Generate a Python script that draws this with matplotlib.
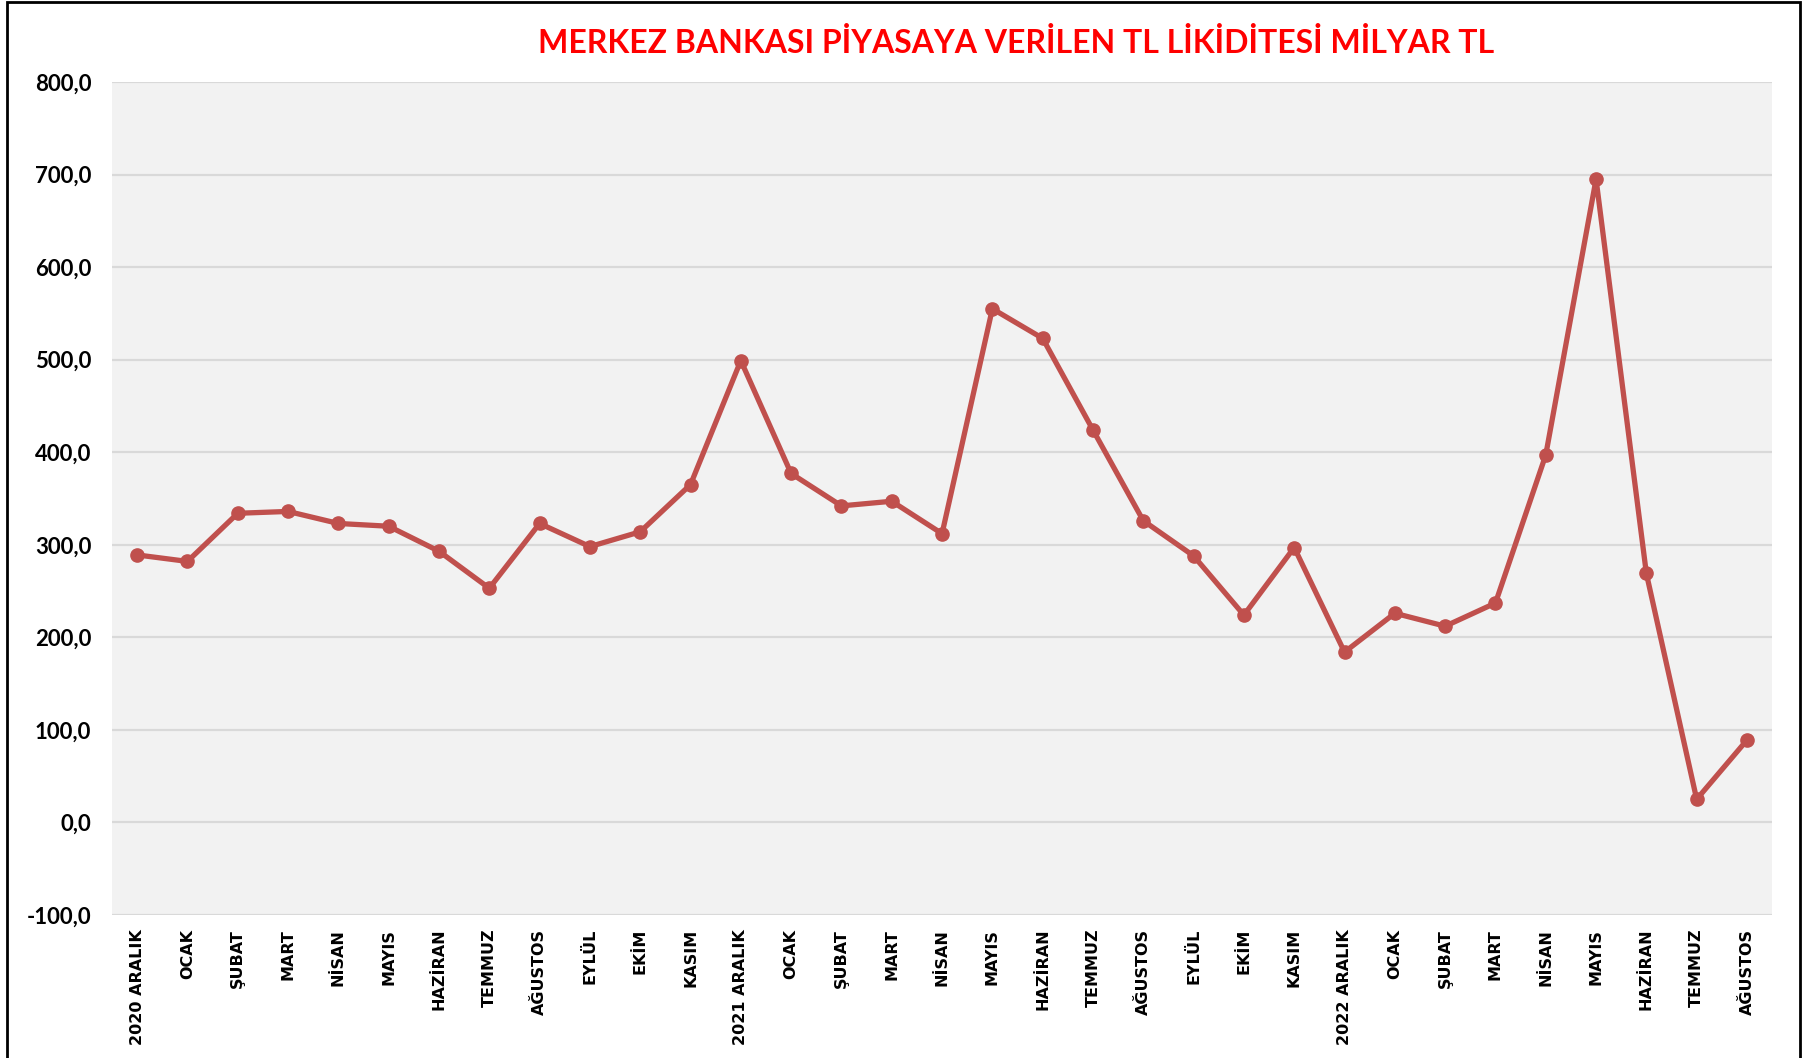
import matplotlib
matplotlib.use("Agg")
import matplotlib.pyplot as plt
from matplotlib.patches import Rectangle
from matplotlib.ticker import FuncFormatter

# Monthly TL liquidity (billion TL)
months = ["2020 ARALIK", "OCAK", "ŞUBAT", "MART", "NİSAN", "MAYIS", "HAZİRAN",
          "TEMMUZ", "AĞUSTOS", "EYLÜL", "EKİM", "KASIM",
          "2021 ARALIK", "OCAK", "ŞUBAT", "MART", "NİSAN", "MAYIS", "HAZİRAN",
          "TEMMUZ", "AĞUSTOS", "EYLÜL", "EKİM", "KASIM",
          "2022 ARALIK", "OCAK", "ŞUBAT", "MART", "NİSAN", "MAYIS", "HAZİRAN",
          "TEMMUZ", "AĞUSTOS"]
liquidity = [289, 282, 334, 336, 323, 320, 293, 253, 323, 298, 314, 365,
             499, 377, 342, 347, 312, 555, 523, 424, 326, 288, 224, 297,
             184, 226, 212, 237, 397, 695, 269, 25, 89]
y_ticks = [-100, 0, 100, 200, 300, 400, 500, 600, 700, 800]

plt.rcParams['font.family'] = ['Lato', 'DejaVu Sans']

fig = plt.figure(figsize=(18.12, 10.58), dpi=100)
ax = fig.add_axes([0.0618, 0.1352, 0.9162, 0.7873])
ax.set_facecolor('#F2F2F2')

x = list(range(len(months)))
ax.plot(x, liquidity, color='#C0504D', linewidth=3.8, marker='o',
        markersize=9.5, zorder=3)

ax.set_xlim(-0.5, len(months) - 0.5)
ax.set_ylim(-100, 800)
ax.set_yticks(y_ticks)
ax.yaxis.set_major_formatter(FuncFormatter(lambda v, p: f"{v:.1f}".replace('.', ',')))
ax.set_xticks(x)
ax.set_xticklabels(months, rotation=90, fontsize=11.5, fontweight='bold',
                   family='DejaVu Sans')
for lab in ax.get_yticklabels():
    lab.set_fontsize(16)
    lab.set_fontweight('bold')

ax.grid(axis='y', color='#D9D9D9', linewidth=1.6, zorder=0)
ax.set_axisbelow(True)
ax.tick_params(axis='both', length=0)
ax.tick_params(axis='y', pad=15)
ax.tick_params(axis='x', pad=10)
for s in ax.spines.values():
    s.set_visible(False)

fig.text(0.561, 0.959, "MERKEZ BANKASI PİYASAYA VERİLEN TL LİKİDİTESİ MİLYAR TL",
         ha='center', va='center', color='#FF0000', fontsize=23, fontweight='bold')

# outer frame (no bottom edge visible in the reference)
fig.patches.append(Rectangle((7 / 1812, -0.01), 1793 / 1812, 1.01 - 2 / 1058,
                             transform=fig.transFigure, fill=False,
                             edgecolor='black', linewidth=2))

fig.savefig('out.png', dpi=100)
